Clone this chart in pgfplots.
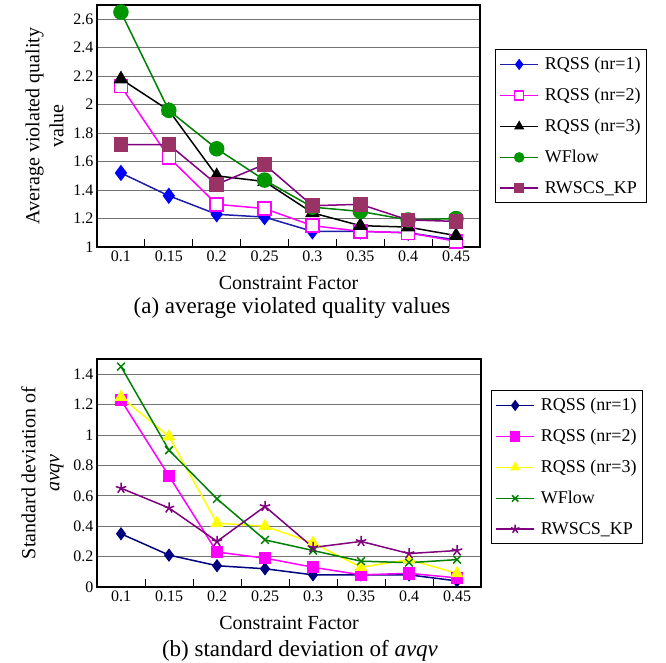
\documentclass[border=0pt]{standalone}
\usepackage{pgfplots}
\pgfplotsset{compat=1.18}
\usepackage{fontspec}
\setmainfont{Liberation Serif}

\definecolor{bluel}{RGB}{30,30,170}
\definecolor{bluem}{RGB}{0,0,255}
\definecolor{navyc}{RGB}{0,0,128}
\definecolor{magc}{RGB}{255,0,255}
\definecolor{greenl}{RGB}{0,128,0}
\definecolor{greenm}{RGB}{0,150,0}
\definecolor{purpc}{RGB}{128,0,128}
\definecolor{maroonc}{RGB}{153,51,102}
\definecolor{yelc}{RGB}{255,255,0}

% top panel: average violated quality values
\pgfplotstableread{
x  nrA  nrB  nrC  wflow rwscs
0  1.52 2.13 2.18 2.65  1.72
1  1.36 1.63 1.96 1.96  1.72
2  1.23 1.30 1.50 1.69  1.44
3  1.21 1.27 1.46 1.47  1.58
4  1.11 1.15 1.24 1.28  1.29
5  1.11 1.11 1.15 1.25  1.30
6  1.10 1.10 1.14 1.19  1.19
7  1.05 1.04 1.08 1.20  1.18
}\avqdata

% bottom panel: standard deviation of avqv
\pgfplotstableread{
x  nrA  nrB  nrC  wflow rwscs
0  0.35 1.23 1.25 1.45  0.65
1  0.21 0.73 0.99 0.90  0.52
2  0.14 0.23 0.42 0.58  0.30
3  0.12 0.19 0.40 0.31  0.53
4  0.08 0.13 0.29 0.24  0.26
5  0.08 0.08 0.13 0.17  0.30
6  0.08 0.09 0.18 0.16  0.22
7  0.04 0.06 0.09 0.18  0.24
}\sddata

\pgfplotsset{
  cfaxis/.style={
    scale only axis,
    xmin=-0.5, xmax=7.5,
    xtick={0,...,7},
    xticklabels={0.1,0.15,0.2,0.25,0.3,0.35,0.4,0.45},
    major x tick style={draw=none},
    minor xtick={0.5,1.5,2.5,3.5,4.5,5.5,6.5},
    minor tick length=8pt,
    minor x tick style={black, line width=0.9pt},
    tick align=inside,
    xtick pos=bottom,
    ytick style={draw=none},
    ymajorgrids,
    grid style={black!55, line width=1pt},
    axis line style={line width=1.4pt},
    /pgf/number format/assume math mode=true,
    tick label style={font=\rmfamily\fontsize{16}{18}\selectfont},
    label style={font=\rmfamily\fontsize{20}{24}\selectfont},
    xlabel={Constraint Factor},
    xlabel style={at={(axis description cs:0.5,0)}, anchor=base, yshift=-42pt},
    ylabel style={align=center, at={(axis description cs:-0.078,0.5)}, anchor=south},
    every axis plot/.append style={line width=1.5pt},
    legend style={font=\rmfamily\fontsize{18}{20}\selectfont, draw=black, line width=0.9pt,
      at={(1,1)}, anchor=north west, cells={anchor=west},
      inner xsep=4pt, inner ysep=6pt, row sep=13pt, column sep=4pt},
    legend image code/.code={\draw[mark repeat=2,mark phase=2,#1]
      plot coordinates {(0pt,0pt) (19pt,0pt) (38pt,0pt)};},
    legend image post style={mark size=4.5pt},
  }
}

\begin{document}
\begin{tikzpicture}
\useasboundingbox (0,0) rectangle (666pt,-663pt);

\begin{axis}[cfaxis,
  at={(97pt,-247pt)}, anchor=south west,
  width=383pt, height=242pt,
  ymin=1, ymax=2.7,
  ytick={1,1.2,1.4,1.6,1.8,2,2.2,2.4,2.6},
  ylabel={Average violated quality\\value},
  legend style={xshift=15pt, yshift=-44pt},
  ]
  \addplot[color=bluel, mark=diamond*, mark size=7pt, mark options={fill=bluem, draw=bluem}] table[x=x, y=nrA] {\avqdata};
  \addlegendentry{RQSS (nr=1)}
  \addplot[color=magc, mark=square*, mark size=6.5pt, mark options={fill=white, draw=magc}] table[x=x, y=nrB] {\avqdata};
  \addlegendentry{RQSS (nr=2)}
  \addplot[color=black, mark=triangle*, mark size=7pt] table[x=x, y=nrC] {\avqdata};
  \addlegendentry{RQSS (nr=3)}
  \addplot[color=greenl, mark=*, mark size=7pt, mark options={fill=greenm, draw=greenm}] table[x=x, y=wflow] {\avqdata};
  \addlegendentry{WFlow}
  \addplot[color=purpc, mark=square*, mark size=6.5pt, mark options={fill=maroonc, draw=maroonc}] table[x=x, y=rwscs] {\avqdata};
  \addlegendentry{RWSCS\_KP}
\end{axis}
\node[anchor=base, font=\rmfamily\fontsize{23}{26}\selectfont] at (292pt,-313pt) {(a) average violated quality values};

\begin{axis}[cfaxis,
  at={(97pt,-587pt)}, anchor=south west,
  width=384pt, height=228pt,
  ymin=0, ymax=1.5,
  ytick={0,0.2,0.4,0.6,0.8,1,1.2,1.4},
  ylabel={Standard deviation of\\\textit{avqv}},
  legend style={xshift=10pt, yshift=-31pt},
  ]
  \addplot[color=navyc, mark=diamond*, mark size=5.5pt] table[x=x, y=nrA] {\sddata};
  \addlegendentry{RQSS (nr=1)}
  \addplot[color=magc, mark=square*, mark size=5.5pt] table[x=x, y=nrB] {\sddata};
  \addlegendentry{RQSS (nr=2)}
  \addplot[color=yelc, mark=triangle*, mark size=6pt] table[x=x, y=nrC] {\sddata};
  \addlegendentry{RQSS (nr=3)}
  \addplot[color=greenl, mark=x, mark size=5.5pt] table[x=x, y=wflow] {\sddata};
  \addlegendentry{WFlow}
  \addplot[color=purpc, mark=star, mark size=5.5pt] table[x=x, y=rwscs] {\sddata};
  \addlegendentry{RWSCS\_KP}
\end{axis}
\node[anchor=base, font=\rmfamily\fontsize{23}{26}\selectfont] at (300pt,-656pt) {(b) standard deviation of \textit{avqv}};
\end{tikzpicture}
\end{document}
